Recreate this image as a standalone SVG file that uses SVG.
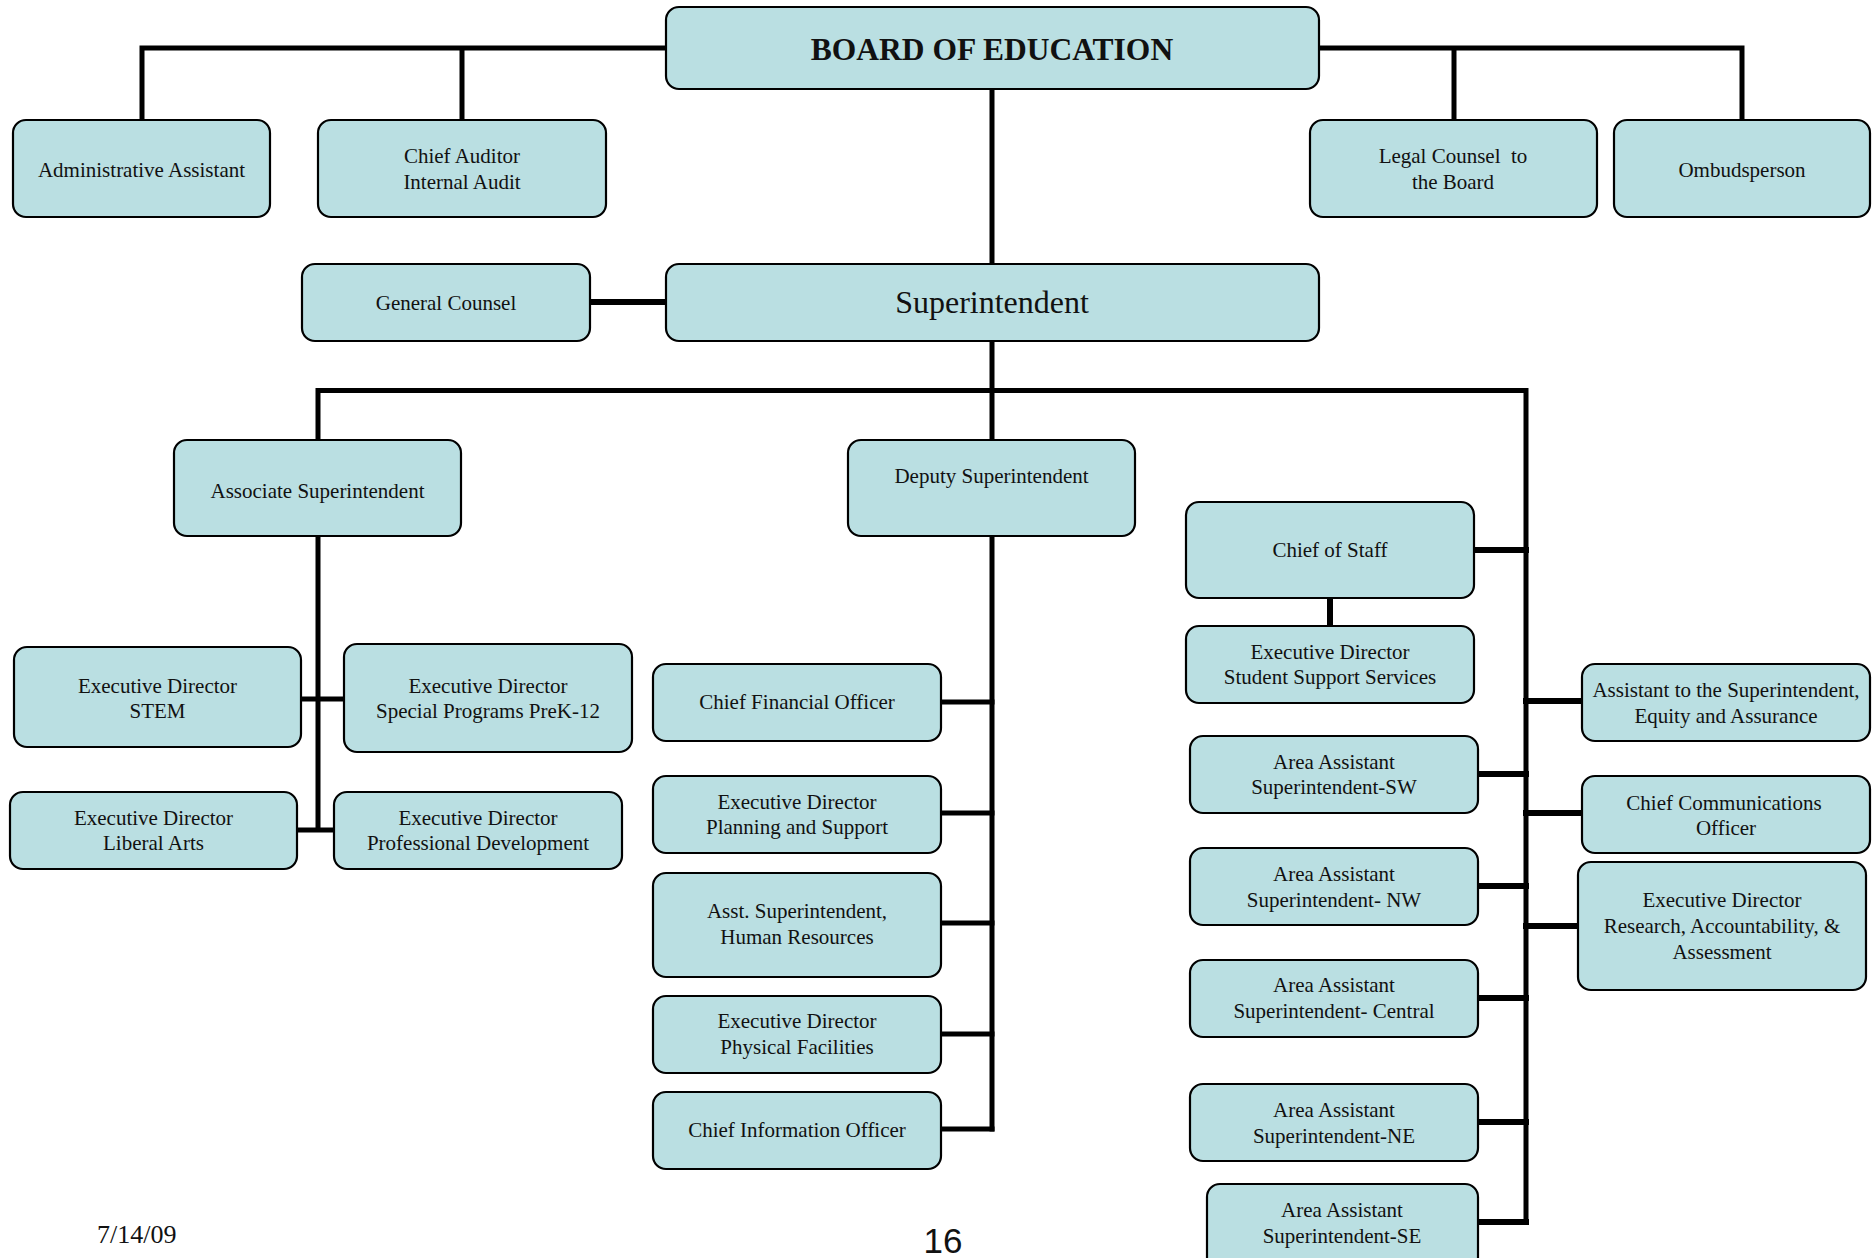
<svg xmlns="http://www.w3.org/2000/svg" width="1872" height="1258" viewBox="0 0 1872 1258">
<style>
.box{fill:#BADFE2;stroke:#000;stroke-width:2.2}
.t{font-family:"Liberation Serif","Times New Roman",serif;font-size:21px;fill:#111;text-anchor:middle}
.c{stroke:#000;stroke-width:5;fill:none;stroke-linecap:square}
</style>
<rect width="1872" height="1258" fill="#fff"/>
<g id="connectors">
<path class="c" d="M142 120V48H666M462 48V120M1319 48H1742V120M1454 48V120"/>
<path class="c" d="M992 89V264M992 341V1129M318 440V390.5H1526V1222"/>
<path class="c" style="stroke-width:6" d="M590 302H666"/>
<path class="c" d="M318 536V830M301 699H344M297 830H334"/>
<path class="c" d="M941 702H992M941 813H992M941 923H992M941 1034H992M941 1129H992"/>
<path class="c" style="stroke-width:6" d="M1474 550H1526M1330 598V626M1526 701H1582M1478 774H1526M1526 813H1582M1478 886H1526M1526 926H1578M1478 998H1526M1478 1122H1526M1478 1222H1526"/>
</g>
<g id="board"><rect class="box" x="666" y="7" width="653" height="82" rx="13"/><text x="992" y="60" class="t" style="font-size:31.5px;font-weight:bold">BOARD OF EDUCATION</text></g>
<g id="admin"><rect class="box" x="13" y="120" width="257" height="97" rx="13"/><text x="141.5" y="177" class="t">Administrative Assistant</text></g>
<g id="auditor"><rect class="box" x="318" y="120" width="288" height="97" rx="13"/><text x="462" y="163" class="t">Chief Auditor</text><text x="462" y="189" class="t">Internal Audit</text></g>
<g id="legal"><rect class="box" x="1310" y="120" width="287" height="97" rx="13"/><text x="1453" y="163" class="t" xml:space="preserve">Legal Counsel  to</text><text x="1453" y="189" class="t">the Board</text></g>
<g id="ombuds"><rect class="box" x="1614" y="120" width="256" height="97" rx="13"/><text x="1742" y="177" class="t">Ombudsperson</text></g>
<g id="general-counsel"><rect class="box" x="302" y="264" width="288" height="77" rx="13"/><text x="446" y="310" class="t">General Counsel</text></g>
<g id="superintendent"><rect class="box" x="666" y="264" width="653" height="77" rx="13"/><text x="992" y="313" class="t" style="font-size:32px">Superintendent</text></g>
<g id="associate"><rect class="box" x="174" y="440" width="287" height="96" rx="13"/><text x="317.5" y="498" class="t">Associate Superintendent</text></g>
<g id="deputy"><rect class="box" x="848" y="440" width="287" height="96" rx="13"/><text x="991.5" y="483" class="t">Deputy Superintendent</text></g>
<g id="stem"><rect class="box" x="14" y="647" width="287" height="100" rx="13"/><text x="157.5" y="693" class="t">Executive Director</text><text x="157.5" y="718" class="t">STEM</text></g>
<g id="special"><rect class="box" x="344" y="644" width="288" height="108" rx="13"/><text x="488" y="693" class="t">Executive Director</text><text x="488" y="718" class="t">Special Programs PreK-12</text></g>
<g id="liberal"><rect class="box" x="10" y="792" width="287" height="77" rx="13"/><text x="153.5" y="825" class="t">Executive Director</text><text x="153.5" y="850" class="t">Liberal Arts</text></g>
<g id="profdev"><rect class="box" x="334" y="792" width="288" height="77" rx="13"/><text x="478" y="825" class="t">Executive Director</text><text x="478" y="850" class="t">Professional Development</text></g>
<g id="cfo"><rect class="box" x="653" y="664" width="288" height="77" rx="13"/><text x="797" y="709" class="t">Chief Financial Officer</text></g>
<g id="planning"><rect class="box" x="653" y="776" width="288" height="77" rx="13"/><text x="797" y="809" class="t">Executive Director</text><text x="797" y="834" class="t">Planning and Support</text></g>
<g id="hr"><rect class="box" x="653" y="873" width="288" height="104" rx="13"/><text x="797" y="918" class="t">Asst. Superintendent,</text><text x="797" y="944" class="t">Human Resources</text></g>
<g id="facilities"><rect class="box" x="653" y="996" width="288" height="77" rx="13"/><text x="797" y="1028" class="t">Executive Director</text><text x="797" y="1054" class="t">Physical Facilities</text></g>
<g id="cio"><rect class="box" x="653" y="1092" width="288" height="77" rx="13"/><text x="797" y="1137" class="t">Chief Information Officer</text></g>
<g id="chief-of-staff"><rect class="box" x="1186" y="502" width="288" height="96" rx="13"/><text x="1330" y="557" class="t">Chief of Staff</text></g>
<g id="student-support"><rect class="box" x="1186" y="626" width="288" height="77" rx="13"/><text x="1330" y="659" class="t">Executive Director</text><text x="1330" y="684" class="t">Student Support Services</text></g>
<g id="area-sw"><rect class="box" x="1190" y="736" width="288" height="77" rx="13"/><text x="1334" y="769" class="t">Area Assistant</text><text x="1334" y="794" class="t">Superintendent-SW</text></g>
<g id="area-nw"><rect class="box" x="1190" y="848" width="288" height="77" rx="13"/><text x="1334" y="881" class="t">Area Assistant</text><text x="1334" y="907" class="t">Superintendent- NW</text></g>
<g id="area-central"><rect class="box" x="1190" y="960" width="288" height="77" rx="13"/><text x="1334" y="992" class="t">Area Assistant</text><text x="1334" y="1018" class="t">Superintendent- Central</text></g>
<g id="area-ne"><rect class="box" x="1190" y="1084" width="288" height="77" rx="13"/><text x="1334" y="1117" class="t">Area Assistant</text><text x="1334" y="1143" class="t">Superintendent-NE</text></g>
<g id="area-se"><rect class="box" x="1207" y="1184" width="271" height="90" rx="13"/><text x="1342" y="1217" class="t">Area Assistant</text><text x="1342" y="1243" class="t">Superintendent-SE</text></g>
<g id="assistant-equity"><rect class="box" x="1582" y="664" width="288" height="77" rx="13"/><text x="1726" y="697" class="t">Assistant to the Superintendent,</text><text x="1726" y="723" class="t">Equity and Assurance</text></g>
<g id="communications"><rect class="box" x="1582" y="776" width="288" height="77" rx="13"/><text x="1724" y="810" class="t">Chief Communications</text><text x="1726" y="835" class="t">Officer</text></g>
<g id="research"><rect class="box" x="1578" y="862" width="288" height="128" rx="13"/><text x="1722" y="907" class="t">Executive Director</text><text x="1722" y="933" class="t">Research, Accountability, &amp;</text><text x="1722" y="959" class="t">Assessment</text></g>
<text x="97" y="1243" style="font-family:'Liberation Serif','Times New Roman',serif;font-size:26px;fill:#111">7/14/09</text>
<text x="943" y="1253" style="font-family:'Liberation Sans',Arial,sans-serif;font-size:35px;fill:#111;text-anchor:middle">16</text>
</svg>
